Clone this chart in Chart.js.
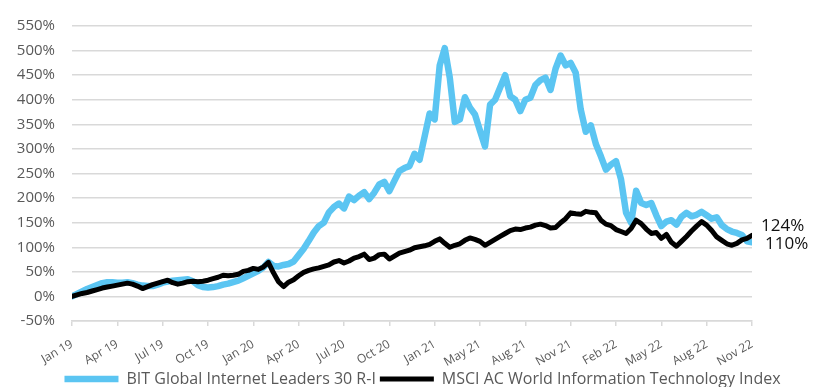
<!DOCTYPE html>
<html>
<head>
<meta charset="utf-8">
<script src="https://cdn.jsdelivr.net/npm/chart.js@4"></script>
<style>
  html, body { margin: 0; padding: 0; background: #fff; }
  #wrap { width: 815px; height: 387px; }
</style>
</head>
<body>
<div id="wrap"><canvas id="perf-chart"></canvas></div>
<script>
// tick labels along the date axis, one every 9 points
const xTicks = ["Jan 19", "Apr 19", "Jul 19", "Oct 19", "Jan 20", "Apr 20", "Jul 20", "Oct 20",
  "Jan 21", "May 21", "Aug 21", "Nov 21", "Feb 22", "May 22", "Aug 22", "Nov 22"];

// cumulative performance in %
const bitValues = [
  0, 5, 10, 15, 19, 23, 27, 29, 29, 28,
  28, 29, 27, 24, 22, 21, 21, 24, 28, 30,
  32, 33, 34, 35, 31, 23, 19, 18, 19, 21,
  24, 26, 29, 32, 37, 42, 47, 52, 59, 70,
  62, 61, 64, 66, 71, 84, 97, 113, 130, 143,
  150, 171, 182, 189, 179, 203, 196, 205, 212, 198,
  211, 228, 233, 214, 235, 255, 261, 265, 290, 278,
  325, 372, 360, 470, 505, 445, 355, 360, 405, 384,
  370, 337, 305, 390, 400, 425, 450, 407, 400, 377,
  400, 404, 430, 440, 445, 420, 463, 490, 470, 475,
  455, 380, 335, 348, 310, 285, 258, 268, 275, 238,
  170, 150, 215, 190, 186, 190, 165, 143, 152, 155,
  146, 162, 170, 163, 166, 172, 165, 158, 161, 145,
  137, 132, 129, 125, 112, 110
];
const msciValues = [
  0, 3, 6, 8, 11, 14, 17, 19, 21, 23,
  25, 27, 25, 21, 16, 20, 24, 27, 30, 33,
  28, 25, 27, 30, 31, 30, 31, 33, 36, 39,
  43, 42, 43, 45, 51, 53, 57, 55, 60, 69,
  48, 30, 20, 29, 34, 42, 49, 53, 56, 58,
  61, 64, 70, 73, 68, 72, 78, 81, 86, 75,
  78, 85, 86, 76, 82, 88, 91, 94, 99, 101,
  103, 106, 112, 117, 108, 100, 104, 107, 114, 119,
  116, 112, 104, 110, 116, 122, 128, 134, 137, 136,
  139, 141, 145, 147, 144, 139, 140, 150, 158, 170,
  168, 167, 173, 171, 170, 155, 147, 144, 136, 132,
  128, 138, 155, 148, 137, 128, 130, 118, 126, 110,
  102, 112, 122, 133, 143, 152, 145, 134, 121, 114,
  107, 104, 108, 115, 118, 124
];

const seriesNames = ["BIT Global Internet Leaders 30 R-I", "MSCI AC World Information Technology Index"];
const endLabels = ["110%", "124%"];

const fontFamily = "'Open Sans', sans-serif";
const grey = "#595959";

function toPoints(arr) {
  return arr.map((v, i) => ({ x: i, y: v }));
}

// final value labels to the right of the lines
const endLabelPlugin = {
  id: "endLabels",
  afterLayout(chart) {
    // legend sits a little right of the canvas centre in the original
    chart.legend.left += 15;
    chart.legend.right += 15;
  },
  afterDatasetsDraw(chart) {
    const { ctx } = chart;
    const x = chart.scales.x;
    const y = chart.scales.y;
    const last = bitValues.length - 1;
    ctx.save();
    ctx.fillStyle = "#111";
    ctx.font = "17px " + fontFamily;
    ctx.textBaseline = "middle";
    ctx.textAlign = "left";
    ctx.fillText(endLabels[1], x.getPixelForValue(last) + 9, y.getPixelForValue(msciValues[last]) - 9);
    ctx.fillText(endLabels[0], x.getPixelForValue(last) + 13, y.getPixelForValue(bitValues[last]) + 2);
    ctx.restore();
  },
};

const ctx = document.getElementById("perf-chart").getContext("2d");
const chart = new Chart(ctx, {
  type: "line",
  data: {
    datasets: [
      {
        label: seriesNames[0],
        data: toPoints(bitValues),
        borderColor: "#5bc5f2",
        backgroundColor: "#5bc5f2",
        borderWidth: 6.5,
        order: 2,
      },
      {
        label: seriesNames[1],
        data: toPoints(msciValues),
        borderColor: "#000000",
        backgroundColor: "#000000",
        borderWidth: 5,
        order: 1,
      },
    ],
  },
  plugins: [endLabelPlugin],
  options: {
    responsive: true,
    maintainAspectRatio: false,
    animation: false,
    layout: { padding: { left: 0, top: 7, right: 0, bottom: -10 } },
    elements: {
      point: { radius: 0 },
      line: { tension: 0, borderJoinStyle: "round", borderCapStyle: "round" },
    },
    plugins: {
      tooltip: { enabled: false },
      legend: {
        position: "bottom",
        labels: {
          usePointStyle: true,
          pointStyle: "line",
          pointStyleWidth: 54,
          color: grey,
          font: { family: fontFamily, size: 16 },
          padding: 4,
          sort: (a, b) => a.datasetIndex - b.datasetIndex,
        },
      },
    },
    scales: {
      x: {
        type: "linear",
        min: 0,
        max: bitValues.length - 1,
        afterFit: (s) => { s.height = 46; },
        grid: { drawOnChartArea: false, color: "#d9d9d9", tickLength: 5, lineWidth: 1.5 },
        border: { display: true, color: "#d9d9d9", width: 1.5 },
        ticks: {
          stepSize: 9,
          autoSkip: false,
          maxRotation: 30,
          minRotation: 30,
          padding: 11,
          color: grey,
          font: { family: fontFamily, size: 12 },
          callback: (v) => xTicks[v / 9],
        },
      },
      y: {
        min: -50,
        max: 550,
        afterFit: (s) => { s.width = 72; },
        grid: { color: "#d9d9d9", lineWidth: 1.5, drawTicks: false },
        border: { display: false },
        ticks: {
          stepSize: 50,
          padding: 17,
          color: grey,
          font: { family: fontFamily, size: 15 },
          callback: (v) => v + "%",
        },
      },
      yRight: {
        position: "right",
        min: -50,
        max: 550,
        afterFit: (s) => { s.width = 63; },
        grid: { display: false },
        border: { display: false },
        ticks: { display: false },
      },
    },
  },
});
</script>
</body>
</html>
